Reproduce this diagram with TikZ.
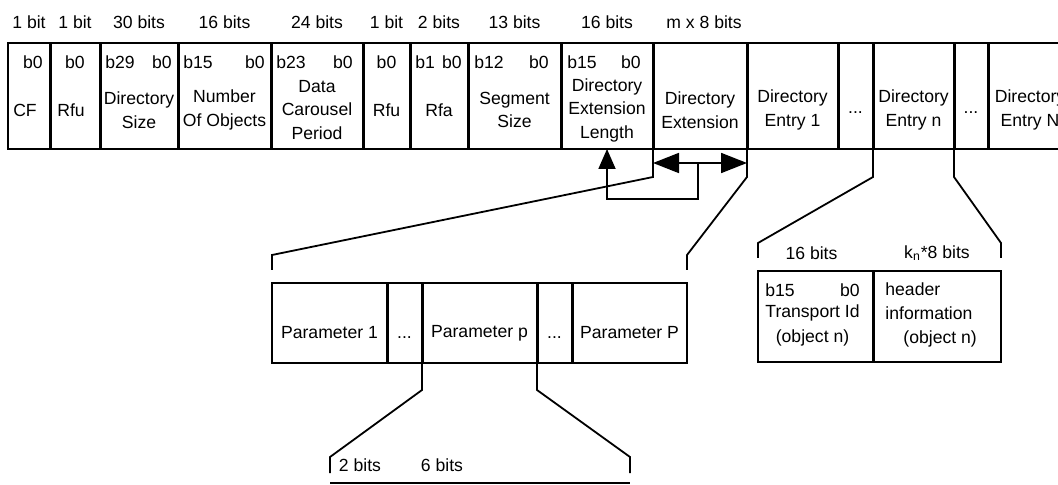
\documentclass[tikz,border=0pt]{standalone}
\usepackage{fontspec}
\setmainfont{Liberation Sans}
\usetikzlibrary{arrows.meta, positioning}

\tikzset{
	field/.style={draw, line width=0.9pt, minimum height=53pt, inner sep=0pt, outer sep=0pt},
	fname/.style={align=center, inner sep=0pt},
	bitno/.style={inner sep=0pt},
	bitw/.style={inner sep=0pt},
	divider/.style={line width=1.5pt},
	bracket/.style={line width=0.9pt},
}

\begin{document}
\begin{tikzpicture}[x=0.5pt, y=-0.5pt, font=\fontsize{8.8pt}{11.75pt}\selectfont]
	\useasboundingbox (0,0) rectangle (1058,485);

	% top row
	\node (cf) [field, minimum width=21pt, anchor=north west] at (8,43) {};
	\node (rfu) [field, minimum width=25pt, right=0pt of cf] {};
	\node (dsize) [field, minimum width=39pt, right=0pt of rfu] {};
	\node (nobj) [field, minimum width=46.5pt, right=0pt of dsize] {};
	\node (dcp) [field, minimum width=46pt, right=0pt of nobj] {};
	\node (rfu2) [field, minimum width=23.5pt, right=0pt of dcp] {};
	\node (rfa) [field, minimum width=29pt, right=0pt of rfu2] {};
	\node (ssize) [field, minimum width=46.5pt, right=0pt of rfa] {};
	\node (dlen) [field, minimum width=46pt, right=0pt of ssize] {};
	\node (dext) [field, minimum width=47pt, right=0pt of dlen] {};
	\node (de1) [field, minimum width=45.5pt, right=0pt of dext] {};
	\node (dots1) [field, minimum width=17.5pt, right=0pt of de1] {};
	\node (den) [field, minimum width=40.5pt, right=0pt of dots1] {};
	\node (dots2) [field, minimum width=17pt, right=0pt of den] {};
	\node (deN) [field, minimum width=42pt, right=0pt of dots2] {};

	\draw [divider]
		(cf.north east) -- (cf.south east)
		(rfu.north east) -- (rfu.south east)
		(dsize.north east) -- (dsize.south east)
		(nobj.north east) -- (nobj.south east)
		(dcp.north east) -- (dcp.south east)
		(rfu2.north east) -- (rfu2.south east)
		(rfa.north east) -- (rfa.south east)
		(ssize.north east) -- (ssize.south east)
		(dlen.north east) -- (dlen.south east)
		(dext.north east) -- (dext.south east)
		(de1.north east) -- (de1.south east)
		(dots1.north east) -- (dots1.south east)
		(den.north east) -- (den.south east)
		(dots2.north east) -- (dots2.south east);

	% field widths
	\node (cf-w) [bitw] at ([yshift=10.5pt]cf.north) {1 bit};
	\node (rfu-w) [bitw] at ([yshift=10.5pt]rfu.north) {1 bit};
	\node (dsize-w) [bitw] at ([yshift=10.5pt]dsize.north) {30 bits};
	\node (nobj-w) [bitw] at ([yshift=10.5pt]nobj.north) {16 bits};
	\node (dcp-w) [bitw] at ([yshift=10.5pt]dcp.north) {24 bits};
	\node (rfu2-w) [bitw] at ([yshift=10.5pt]rfu2.north) {1 bit};
	\node (rfa-w) [bitw] at ([yshift=10.5pt]rfa.north) {2 bits};
	\node (ssize-w) [bitw] at ([yshift=10.5pt]ssize.north) {13 bits};
	\node (dlen-w) [bitw] at ([yshift=10.5pt]dlen.north) {16 bits};
	\node (dext-w) [bitw] at ([xshift=2pt, yshift=10.5pt]dext.north) {m x 8 bits};

	% bit numbers
	\node (cf-b) [bitno] at ([xshift=2pt, yshift=-9.5pt]cf.north) {b0};
	\node (rfu-b) [bitno] at ([yshift=-9.5pt]rfu.north) {b0};
	\node (dsize-l) [bitno, anchor=west] at ([xshift=2.5pt, yshift=-9.5pt]dsize.north west) {b29};
	\node (dsize-r) [bitno, anchor=east] at ([xshift=-3pt, yshift=-9.5pt]dsize.north east) {b0};
	\node (nobj-l) [bitno, anchor=west] at ([xshift=2.5pt, yshift=-9.5pt]nobj.north west) {b15};
	\node (nobj-r) [bitno, anchor=east] at ([xshift=-3pt, yshift=-9.5pt]nobj.north east) {b0};
	\node (dcp-l) [bitno, anchor=west] at ([xshift=2.5pt, yshift=-9.5pt]dcp.north west) {b23};
	\node (dcp-r) [bitno, anchor=east] at ([xshift=-5pt, yshift=-9.5pt]dcp.north east) {b0};
	\node (rfu2-b) [bitno] at ([yshift=-9.5pt]rfu2.north) {b0};
	\node (rfa-l) [bitno, anchor=west] at ([xshift=2.5pt, yshift=-9.5pt]rfa.north west) {b1};
	\node (rfa-r) [bitno, anchor=east] at ([xshift=-3pt, yshift=-9.5pt]rfa.north east) {b0};
	\node (ssize-l) [bitno, anchor=west] at ([xshift=3pt, yshift=-9.5pt]ssize.north west) {b12};
	\node (ssize-r) [bitno, anchor=east] at ([xshift=-6pt, yshift=-9.5pt]ssize.north east) {b0};
	\node (dlen-l) [bitno, anchor=west] at ([xshift=3pt, yshift=-9.5pt]dlen.north west) {b15};
	\node (dlen-r) [bitno, anchor=east] at ([xshift=-6pt, yshift=-9.5pt]dlen.north east) {b0};

	% field names
	\node (cf-t) [fname] at ([xshift=-2pt, yshift=-7pt]cf.center) {CF};
	\node (rfu-t) [fname] at ([xshift=-2pt, yshift=-7pt]rfu.center) {Rfu};
	\node (dsize-t) [fname] at ([yshift=-7pt]dsize.center) {Directory\\Size};
	\node (nobj-t) [fname] at ([yshift=-7pt]nobj.center) {Number\\Of Objects};
	\node (dcp-t) [fname] at ([yshift=-7pt]dcp.center) {Data\\Carousel\\Period};
	\node (rfu2-t) [fname] at ([yshift=-7pt]rfu2.center) {Rfu};
	\node (rfa-t) [fname] at ([yshift=-7pt]rfa.center) {Rfa};
	\node (ssize-t) [fname] at ([yshift=-7pt]ssize.center) {Segment\\Size};
	\node (dlen-t) [fname] at ([yshift=-7pt]dlen.center) {Directory\\Extension\\Length};
	\node (dext-t) [fname] at ([yshift=-7pt]dext.center) {Directory\\Extension};
	\node (de1-t) [fname] at ([yshift=-7pt]de1.center) {Directory\\Entry 1};
	\node (dots1-t) [fname] at ([yshift=-8.5pt]dots1.center) {...};
	\node (den-t) [fname] at ([yshift=-7pt]den.center) {Directory\\Entry n};
	\node (dots2-t) [fname] at ([yshift=-8.5pt]dots2.center) {...};
	\node (deN-t) [fname] at ([yshift=-7pt]deN.center) {Directory\\Entry N};

	% extension length points at the extension
	\draw [{Triangle[length=13pt, width=10pt]}-{Triangle[length=13pt, width=10pt]}, line width=0.9pt]
		([yshift=-7pt]dext.south west) -- ([yshift=-7pt]dext.south east);
	\draw [-{Triangle[length=10pt, width=8.5pt]}, line width=0.9pt]
		([xshift=-1pt, yshift=-7pt]dext.south) -- ++(0,36) -| (dlen.south);

	% parameters
	\node (p1) [field, minimum height=40pt, minimum width=57.5pt, anchor=north west] at (272,283) {};
	\node (pd1) [field, minimum height=40pt, minimum width=17.5pt, right=0pt of p1] {};
	\node (pp) [field, minimum height=40pt, minimum width=57.5pt, right=0pt of pd1] {};
	\node (pd2) [field, minimum height=40pt, minimum width=17.5pt, right=0pt of pp] {};
	\node (pP) [field, minimum height=40pt, minimum width=57.5pt, right=0pt of pd2] {};
	\draw [divider]
		(p1.north east) -- (p1.south east)
		(pd1.north east) -- (pd1.south east)
		(pp.north east) -- (pp.south east)
		(pd2.north east) -- (pd2.south east);
	\node (p1-t) [fname] at ([yshift=-5pt]p1.center) {Parameter 1};
	\node (pd1-t) [fname] at ([yshift=-7.5pt]pd1.center) {...};
	\node (pp-t) [fname] at ([yshift=-5pt]pp.center) {Parameter p};
	\node (pd2-t) [fname] at ([yshift=-7.5pt]pd2.center) {...};
	\node (pP-t) [fname] at ([yshift=-5pt]pP.center) {Parameter P};

	\draw [bracket] (dext.south west) -- ++(0,28) -- ([yshift=14pt]p1.north west) -- ++(0,15);
	\draw [bracket] (dext.south east) -- ++(0,28) -- ([yshift=14pt]pP.north east) -- ++(0,15);

	% one parameter
	\coordinate (sub-l) at ([xshift=-46pt, yshift=-60pt]pp.south west);
	\coordinate (sub-r) at ([xshift=46.5pt, yshift=-60pt]pp.south east);
	\draw [bracket] (sub-l) -- (sub-r);
	\node (sub-w1) [bitw] at ([xshift=15pt, yshift=9pt]sub-l) {2 bits};
	\node (sub-w2) [bitw] at ([xshift=56pt, yshift=9pt]sub-l) {6 bits};
	\draw [bracket] (pp.south west) -- ++(0,27) -- ([yshift=13pt]sub-l) -- ++(0,16);
	\draw [bracket] (pp.south east) -- ++(0,27) -- ([yshift=13pt]sub-r) -- ++(0,16);

	% directory entry n
	\node (tid) [field, minimum height=45.5pt, minimum width=57.5pt, anchor=north west] at (758,271) {};
	\node (hdr) [field, minimum height=45.5pt, minimum width=64pt, right=0pt of tid] {};
	\draw [divider] (tid.north east) -- (tid.south east);
	\node (tid-w) [bitw] at ([xshift=-2pt, yshift=9pt]tid.north) {16 bits};
	\node (hdr-w) [bitw] at ([yshift=9pt]hdr.north) {k\textsubscript{n}*8 bits};
	\node (tid-l) [bitno, anchor=west] at ([xshift=3.5pt, yshift=-9.5pt]tid.north west) {b15};
	\node (tid-r) [bitno, anchor=east] at ([xshift=-6.5pt, yshift=-9.5pt]tid.north east) {b0};
	\node (tid-t) [fname, font=\fontsize{8.8pt}{12.5pt}\selectfont] at ([xshift=-1.5pt, yshift=-4.5pt]tid.center) {Transport Id\\(object n)};
	\node (hdr-t) [fname, align=left, anchor=north west, font=\fontsize{8.8pt}{12pt}\selectfont]
		at ([xshift=6pt, yshift=-5.5pt]hdr.north west) {header\\information\\\hspace{9pt}(object n)};

	\draw [bracket] (den.south west) -- ++(0,28) -- ([yshift=14pt]tid.north west) -- ++(0,15);
	\draw [bracket] (den.south east) -- ++(0,28) -- ([yshift=14pt]hdr.north east) -- ++(0,15);

\end{tikzpicture}
\end{document}
